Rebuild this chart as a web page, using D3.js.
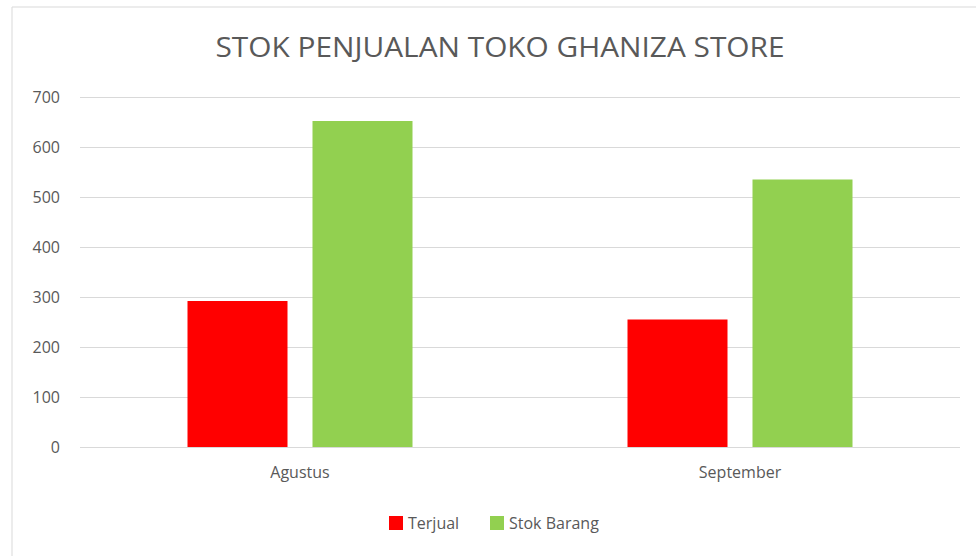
<!DOCTYPE html>
<html>
<head>
<meta charset="utf-8">
<script src="https://cdn.jsdelivr.net/npm/d3@7"></script>
<style>
    body { margin: 0; background: #fff; }
    svg { display: block; font-family: 'Open Sans', sans-serif; }
    .tick text { fill: #595959; font-family: 'Open Sans', sans-serif; font-size: 16px; }
    .grid line { stroke: #d9d9d9; }
    .grid path { display: none; }
</style>
</head>
<body>
<svg width="976" height="556"></svg>
<script>
const months = ['Agustus', 'September'];
const seriesNames = ['Terjual', 'Stok Barang'];
const terjual = [292, 255];
const stokBarang = [652, 535];
const yTicks = [0, 100, 200, 300, 400, 500, 600, 700];
const colors = ['#ff0000', '#92d050'];

const data = months.map((m, i) => ({ month: m, values: [terjual[i], stokBarang[i]] }));

const svg = d3.select('svg');

// chart frame (screenshot edge)
svg.append('line')
    .attr('x1', 12).attr('y1', 7).attr('x2', 976).attr('y2', 7)
    .attr('stroke', '#d9d9d9');
svg.append('line')
    .attr('x1', 12).attr('y1', 7).attr('x2', 12).attr('y2', 556)
    .attr('stroke', '#d9d9d9');

const plotLeft = 80;
const plotRight = 960;
const plotTop = 97;
const plotBottom = 447;

const xScale = d3.scaleBand()
    .range([plotLeft, plotRight])
    .domain(months)
    .padding(0);

const groupWidth = 225;
const xSub = d3.scaleBand()
    .range([0, groupWidth])
    .domain(seriesNames)
    .paddingInner(0.2);

const yScale = d3.scaleLinear()
    .range([plotBottom, plotTop])
    .domain([0, 700]);

// grid lines
svg.append('g')
    .attr('class', 'grid')
    .attr('transform', `translate(${plotLeft}, 0)`)
    .call(d3.axisLeft(yScale)
        .tickValues(yTicks)
        .tickSize(-(plotRight - plotLeft))
        .tickFormat('')
    );

// y labels
svg.append('g')
    .attr('transform', `translate(${plotLeft}, 0)`)
    .call(d3.axisLeft(yScale).tickValues(yTicks).tickSize(0).tickPadding(20))
    .call(g => g.select('.domain').remove());

// x labels
svg.append('g')
    .attr('transform', `translate(0, ${plotBottom})`)
    .call(d3.axisBottom(xScale).tickSize(0).tickPadding(20))
    .call(g => g.select('.domain').remove());

const groups = svg.selectAll('.group')
    .data(data)
    .enter()
    .append('g')
    .attr('class', 'group')
    .attr('transform', (d) => `translate(${xScale(d.month) + (xScale.bandwidth() - groupWidth) / 2}, 0)`);

groups.selectAll('rect')
    .data((d) => d.values.map((v, i) => ({ key: seriesNames[i], value: v, i })))
    .enter()
    .append('rect')
    .attr('x', (d) => xSub(d.key))
    .attr('y', (d) => yScale(d.value))
    .attr('width', xSub.bandwidth())
    .attr('height', (d) => plotBottom - yScale(d.value))
    .attr('fill', (d) => colors[d.i]);

// title
svg.append('text')
    .attr('x', 500)
    .attr('y', 57)
    .attr('text-anchor', 'middle')
    .attr('fill', '#595959')
    .style('font-size', '28px')
    .attr('textLength', 569)
    .attr('lengthAdjust', 'spacingAndGlyphs')
    .text('STOK PENJUALAN TOKO GHANIZA STORE');

// legend
const legendX = [389, 490];
const legend = svg.selectAll('.legend')
    .data(seriesNames)
    .enter()
    .append('g')
    .attr('class', 'legend')
    .attr('transform', (d, i) => `translate(${legendX[i]}, 516)`);

legend.append('rect')
    .attr('width', 14)
    .attr('height', 14)
    .attr('fill', (d, i) => colors[i]);

legend.append('text')
    .attr('x', 19)
    .attr('y', 13)
    .attr('fill', '#595959')
    .style('font-size', '16px')
    .text((d) => d);
</script>
</body>
</html>
